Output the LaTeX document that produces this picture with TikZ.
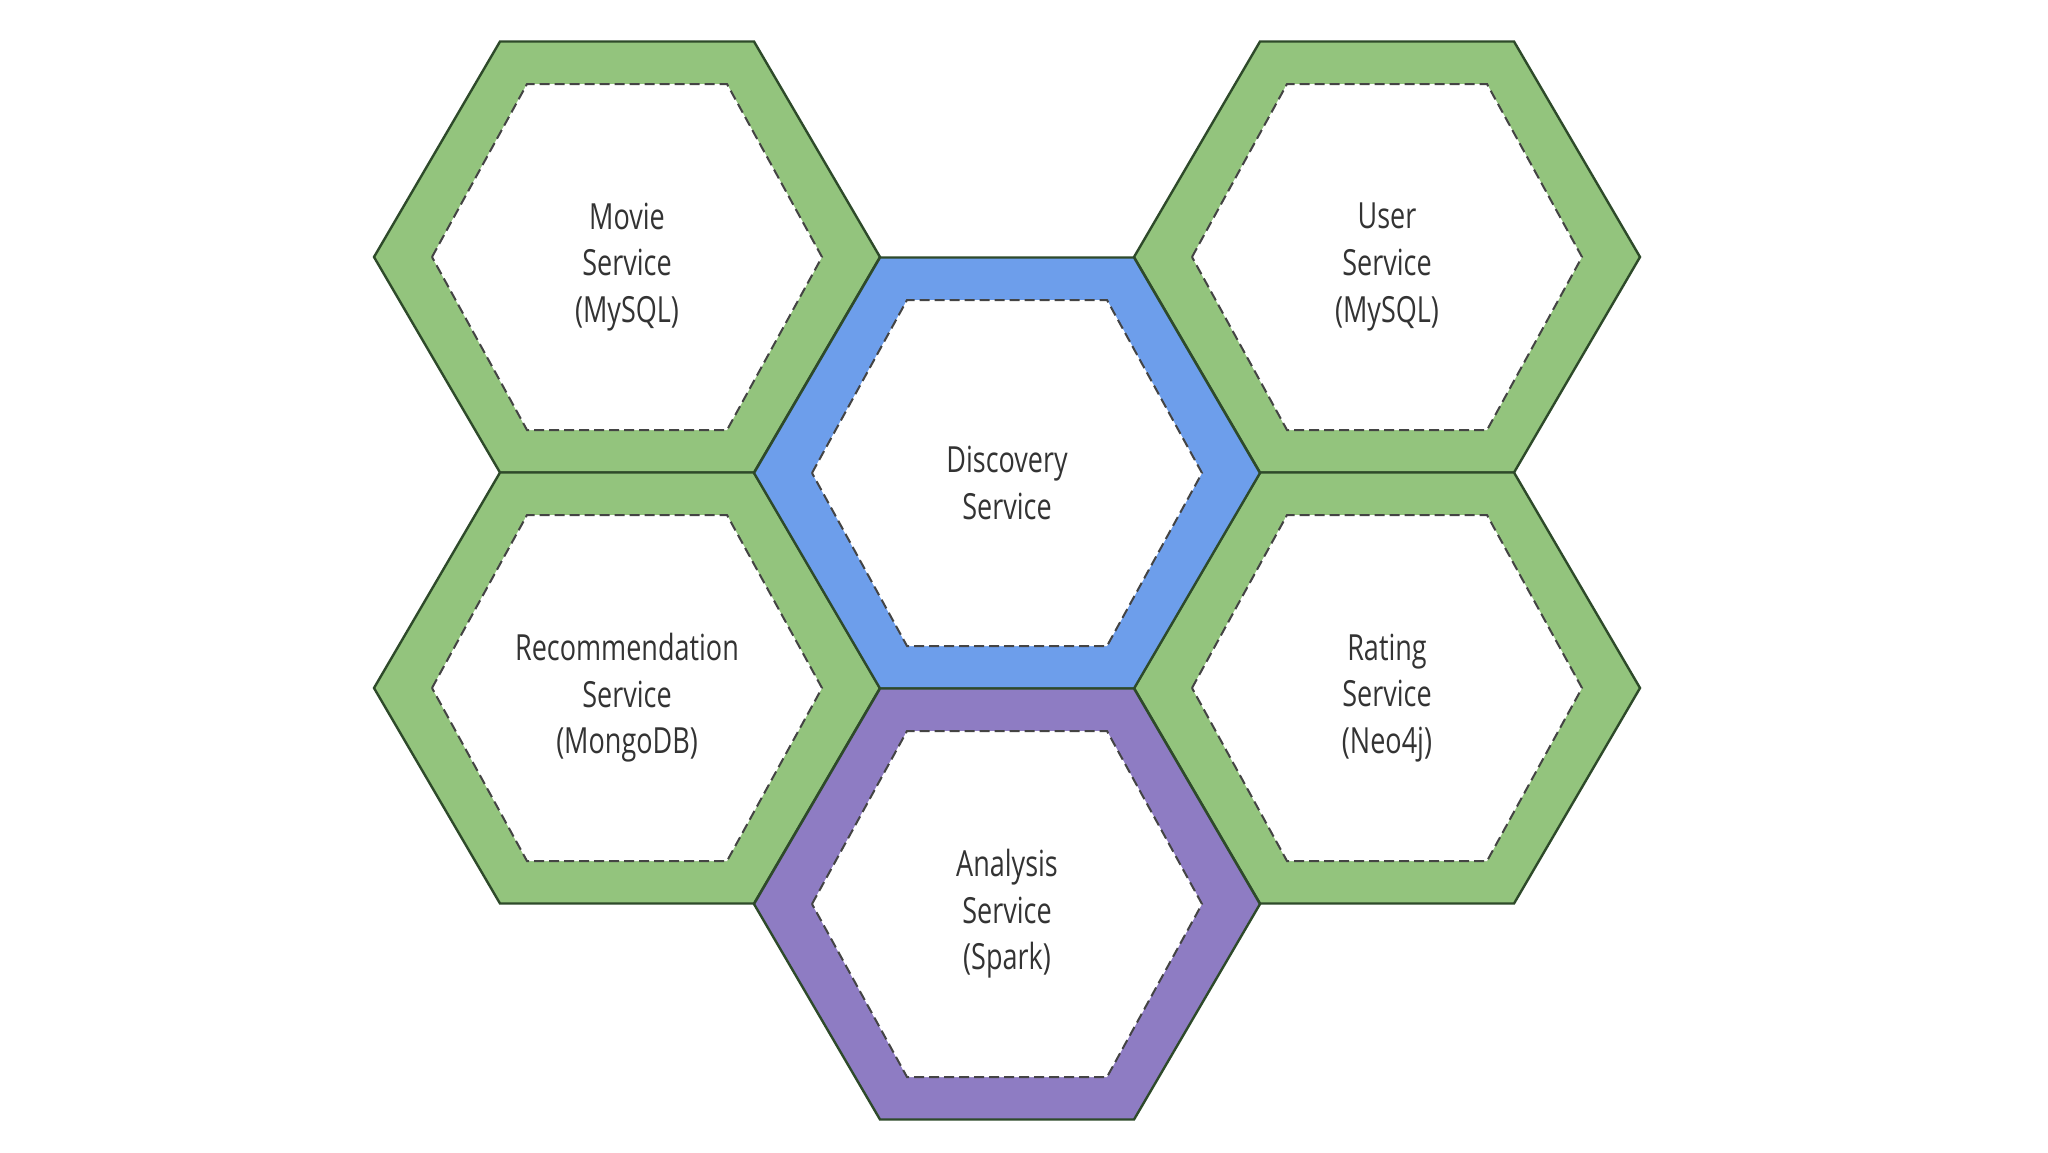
\documentclass[tikz,border=0pt]{standalone}
\usepackage{fontspec}
\setmainfont{Open Sans}[FakeStretch=0.75]
\definecolor{hexgreen}{HTML}{93C47D}
\definecolor{hexblue}{HTML}{6D9EEB}
\definecolor{hexpurple}{HTML}{8E7CC3}
\definecolor{hexline}{HTML}{2E4A2A}
\definecolor{dashline}{HTML}{444444}
\definecolor{txtgray}{HTML}{333333}
\tikzset{
  outerhex/.style={draw=hexline, line width=1.2pt, line join=miter},
  innerhex/.style={draw=dashline, fill=white, line width=1pt, dash pattern=on 5pt off 2.5pt},
  hexlabel/.style={align=center, text=txtgray, font=\fontsize{18}{23.3}\selectfont, inner sep=0pt}
}
\newcommand\hexcell[5]{%
  % #1 name, #2 x, #3 y, #4 fill colour, #5 text
  \fill[#4] (#2-253,#3) -- (#2-127,#3-215.5) -- (#2+127,#3-215.5) -- (#2+253,#3) -- (#2+127,#3+215.5) -- (#2-127,#3+215.5) -- cycle;
  \draw[outerhex] (#2-253,#3) -- (#2-127,#3-215.5) -- (#2+127,#3-215.5) -- (#2+253,#3) -- (#2+127,#3+215.5) -- (#2-127,#3+215.5) -- cycle;
  \draw[innerhex] (#2-195,#3) -- (#2-100,#3-173) -- (#2+100,#3-173) -- (#2+195,#3) -- (#2+100,#3+173) -- (#2-100,#3+173) -- cycle;
  \node[hexlabel] (#1) at (#2,#3+10) {#5};
}
\begin{document}
\begin{tikzpicture}[x=0.5pt,y=-0.5pt]
\useasboundingbox (0,0) rectangle (2048,1152);
\fill[white] (0,0) rectangle (2048,1152);
\hexcell{movie}{627}{257}{hexgreen}{Movie\\Service\\(MySQL)}
\hexcell{user}{1387}{257}{hexgreen}{User\\Service\\(MySQL)}
\hexcell{recommendation}{627}{688}{hexgreen}{Recommendation\\Service\\(MongoDB)}
\hexcell{rating}{1387}{688}{hexgreen}{Rating\\Service\\(Neo4j)}
\hexcell{discovery}{1007}{473}{hexblue}{Discovery\\Service}
\hexcell{analysis}{1007}{904}{hexpurple}{Analysis\\Service\\(Spark)}
\end{tikzpicture}
\end{document}
